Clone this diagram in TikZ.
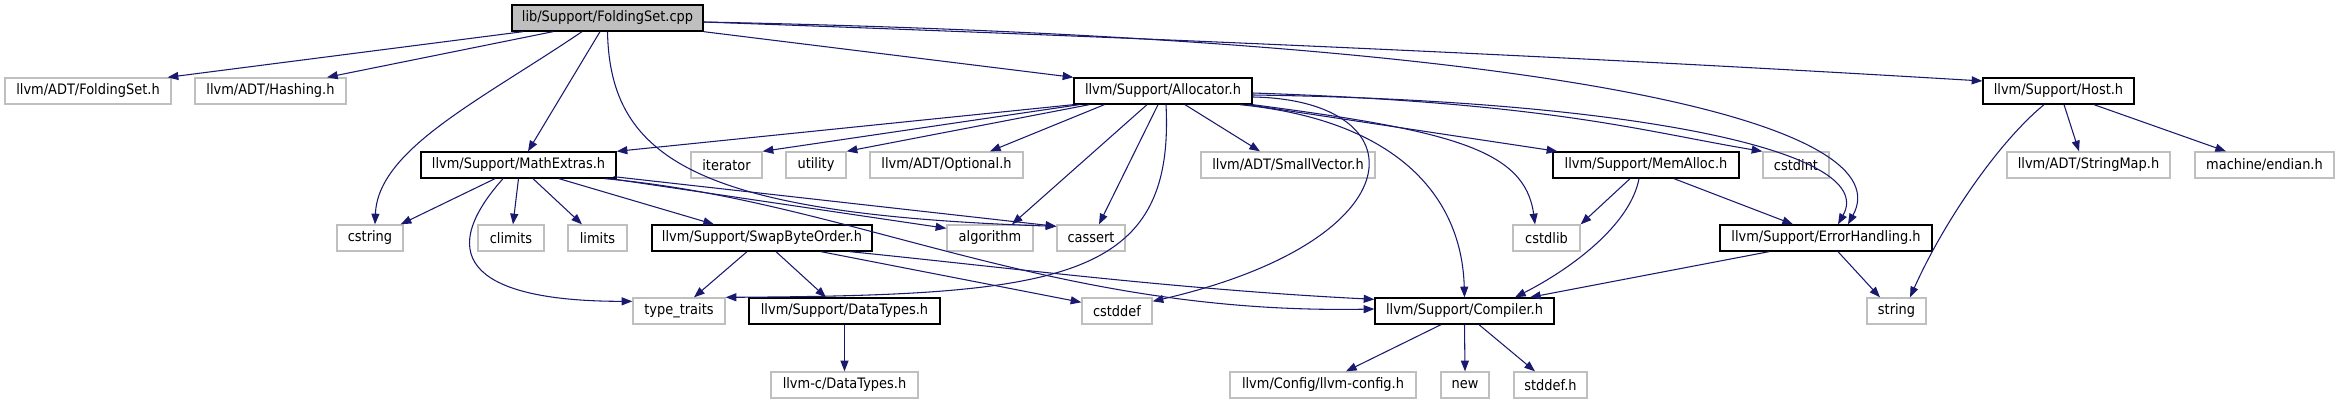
\documentclass[tikz,border=0pt]{standalone}
\usepackage{fontspec}
\setmainfont{DejaVu Sans}[FakeStretch=0.9]
\usetikzlibrary{arrows.meta,calc}
\definecolor{depblue}{RGB}{25,25,112}
\definecolor{extgray}{RGB}{191,191,191}
\definecolor{srcgray}{RGB}{191,191,191}

\begin{document}
\begin{tikzpicture}[x=0.75pt, y=-0.75pt, font=\fontsize{10.8}{13}\selectfont]
  \tikzset{
    incl/.style={-{Triangle[length=8pt,width=6pt]}, draw=depblue, line width=0.8pt},
    extfile/.style={draw=extgray, line width=1pt, fill=white, inner sep=0pt, minimum height=19.5pt, minimum width=#1*0.75pt},
    docfile/.style={extfile=#1, draw=black},
    srcfile/.style={docfile=#1, fill=srcgray}
  }
  \useasboundingbox (0,0) rectangle (2339,403);

  % Files
  \node[srcfile=191] (cpp) at (607.5,18) {lib/Support/FoldingSet.cpp};

  \node[extfile=166] (foldh)    at (88,91)     {llvm/ADT/FoldingSet.h};
  \node[extfile=151] (hashing)  at (270.5,91)  {llvm/ADT/Hashing.h};
  \node[docfile=178] (alloc)    at (1163,91)   {llvm/Support/Allocator.h};
  \node[docfile=151] (host)     at (2058.5,91) {llvm/Support/Host.h};

  \node[docfile=195] (mathext)   at (518.5,165)  {llvm/Support/MathExtras.h};
  \node[extfile=71]  (iterator)  at (726.5,165)  {iterator};
  \node[extfile=60]  (utility)   at (816,165)    {utility};
  \node[extfile=153] (optional)  at (946.5,165)  {llvm/ADT/Optional.h};
  \node[extfile=174] (smallvec)  at (1288,165)   {llvm/ADT/SmallVector.h};
  \node[docfile=186] (memalloc)  at (1646,165)   {llvm/Support/MemAlloc.h};
  \node[extfile=66]  (cstdint)   at (1796,165)   {cstdint};
  \node[extfile=163] (stringmap) at (2088.5,165) {llvm/ADT/StringMap.h};
  \node[extfile=139] (endian)    at (2264.5,165) {machine/endian.h};

  \node[extfile=66]  (cstring)   at (370,238)    {cstring};
  \node[extfile=66]  (climits)   at (511,238)    {climits};
  \node[extfile=59]  (limits)    at (597.5,238)  {limits};
  \node[docfile=220] (swap)      at (762,238)    {llvm/Support/SwapByteOrder.h};
  \node[extfile=86]  (algorithm) at (990,238)    {algorithm};
  \node[extfile=68]  (cassert)   at (1091,238)   {cassert};
  \node[extfile=67]  (cstdlib)   at (1546.5,238) {cstdlib};
  \node[docfile=212] (errh)      at (1826,238)   {llvm/Support/ErrorHandling.h};

  \node[extfile=92]  (traits)    at (679,311)    {type\_traits};
  \node[docfile=191] (datatypes) at (844.5,311)  {llvm/Support/DataTypes.h};
  \node[extfile=70]  (cstddef)   at (1117,311)   {cstddef};
  \node[docfile=179] (compiler)  at (1464.5,311) {llvm/Support/Compiler.h};
  \node[extfile=59]  (string)    at (1896.5,311) {string};

  \node[extfile=147] (cdatatypes) at (844.5,385)  {llvm-c/DataTypes.h};
  \node[extfile=186] (llvmconfig) at (1323,385)   {llvm/Config/llvm-config.h};
  \node[extfile=48]  (new)        at (1465,385)   {new};
  \node[extfile=73]  (stddef)     at (1550.5,385) {stddef.h};

  % FoldingSet.cpp
  \draw[incl] ($(cpp.south)+(-84.5,0)$) -- ($(foldh.north east)+(-4,0)$);
  \draw[incl] ($(cpp.south)+(-54.5,0)$) -- ($(hashing.north)+(56.5,0)$);
  \draw[incl] ($(cpp.south)+(-7.5,0)$) -- ($(mathext.north)+(9.5,0)$);
  \draw[incl] ($(cpp.south)+(-25.5,0)$) .. controls +(-102,69) and +(3,-75) .. ($(cstring.north)+(5,0)$);
  \draw[incl] (cpp.south) .. controls +(2.5,129) and +(-357,-12) .. ($(cassert.north west)+(0,2)$);
  \draw[incl] (cpp.south east) -- (alloc.north west);
  \draw[incl] ($(cpp.east)+(0,4)$) .. controls +(500,18) and +(-400,-24) .. ($(host.west)+(0,-10)$);
  \draw[incl] ($(cpp.east)+(0,4)$) .. controls +(897,18) and +(52,-95) .. ($(errh.north)+(22,0)$);

  % Allocator.h
  \draw[incl] (alloc.south west) -- (mathext.north east);
  \draw[incl] ($(alloc.south west)+(6,0)$) -- (iterator.north east);
  \draw[incl] ($(alloc.south west)+(16,0)$) -- (utility.north east);
  \draw[incl] ($(alloc.south west)+(31,0)$) -- ($(optional.north)+(43.5,0)$);
  \draw[incl] ($(alloc.south)+(-16,0)$) -- ($(algorithm.north)+(22,0)$);
  \draw[incl] ($(alloc.south)+(-5,0)$) -- ($(cassert.north)+(8,0)$);
  \draw[incl] ($(alloc.south)+(3,0)$) .. controls +(9,176) and +(335,-2) .. (traits.north east);
  \draw[incl] ($(alloc.south)+(22,0)$) -- ($(smallvec.north)+(-28,0)$);
  \draw[incl] ($(alloc.east)+(0,6)$) .. controls +(168,3) and +(268,-62) .. ($(cstddef.north east)+(0,4)$);
  \draw[incl] ($(alloc.south east)+(-13,0)$) .. controls +(161,16) and +(-2.5,-98) .. (compiler.north);
  \draw[incl] ($(alloc.south east)+(-5,0)$) -- ($(memalloc.north west)+(5,0)$);
  \draw[incl] (alloc.south east) .. controls +(198,26) and +(-10,-75) .. ($(cstdlib.north)+(-11.5,0)$);
  \draw[incl] ($(alloc.east)+(0,2)$) .. controls +(300,10) and +(-120,-20) .. (cstdint.north west);
  \draw[incl] ($(alloc.east)+(0,4)$) .. controls +(368,5) and +(42,-75) .. ($(errh.north)+(12,0)$);

  % MathExtras.h
  \draw[incl] ($(mathext.south)+(-23.5,0)$) -- ($(cstring.north east)+(-3,0)$);
  \draw[incl] ($(mathext.south)+(-15.5,0)$) .. controls +(-73,82) and +(-153,0) .. ($(traits.north west)+(0,4)$);
  \draw[incl] (mathext.south) -- ($(climits.north)+(2,0)$);
  \draw[incl] ($(mathext.south)+(14.5,0)$) -- ($(limits.north)+(-15.5,0)$);
  \draw[incl] ($(mathext.south)+(40.5,0)$) -- ($(swap.north)+(-48,0)$);
  \draw[incl] ($(mathext.south east)+(-6,0)$) -- ($(algorithm.north west)+(0,4)$);
  \draw[incl] ($(mathext.south east)+(-3,-2)$) -- ($(cassert.north west)+(0,2)$);
  \draw[incl] ($(mathext.south east)+(-12,0)$) .. controls +(246,22) and +(-325,6) .. ($(compiler.west)+(0,-2)$);

  % SwapByteOrder.h
  \draw[incl] ($(swap.south)+(-15,0)$) -- ($(traits.north)+(15,0)$);
  \draw[incl] ($(swap.south)+(14,0)$) -- ($(datatypes.north)+(-18.5,0)$);
  \draw[incl] ($(swap.south)+(59,0)$) -- ($(cstddef.north west)+(0,5)$);
  \draw[incl] ($(swap.south)+(88,0)$) .. controls +(150,15) and +(-200,-10) .. ($(compiler.north west)+(0,2)$);

  % the rest
  \draw[incl] (datatypes.south) -- (cdatatypes.north);
  \draw[incl] ($(compiler.south)+(-23.5,0)$) -- ($(llvmconfig.north)+(23,0)$);
  \draw[incl] (compiler.south) -- (new.north);
  \draw[incl] ($(compiler.south)+(14.5,0)$) -- ($(stddef.north)+(-15.5,0)$);
  \draw[incl] ($(memalloc.south)+(-16,0)$) -- (cstdlib.north east);
  \draw[incl] ($(memalloc.south)+(-7,0)$) .. controls +(-9,47) and +(55,-28) .. ($(compiler.north)+(50.5,0)$);
  \draw[incl] ($(memalloc.south)+(28,0)$) -- ($(errh.north)+(-33,0)$);
  \draw[incl] ($(errh.south)+(-57,0)$) -- ($(compiler.north)+(65.5,0)$);
  \draw[incl] ($(errh.south)+(12,0)$) -- ($(string.north)+(-16.5,0)$);
  \draw[incl] ($(host.south)+(-14.5,0)$) .. controls +(-44,36) and +(35,-78) .. ($(string.north)+(13.5,0)$);
  \draw[incl] ($(host.south)+(5.5,0)$) -- ($(stringmap.north)+(-9.5,0)$);
  \draw[incl] ($(host.south)+(35.5,0)$) -- ($(endian.north)+(-38.5,0)$);

\end{tikzpicture}
\end{document}
